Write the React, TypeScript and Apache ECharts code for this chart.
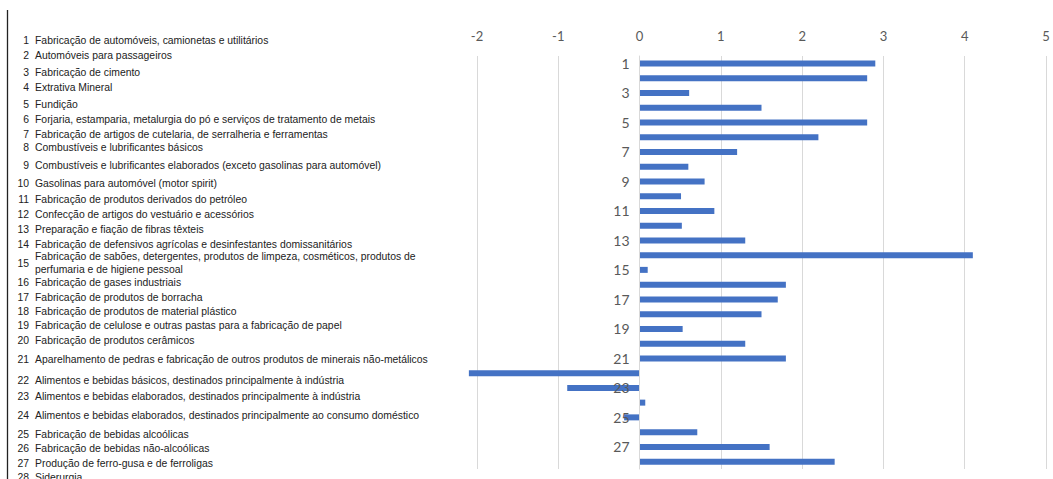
import React, { useEffect, useRef } from "react";
import * as echarts from "echarts";

const categories: string[] = [
  "1", "2", "3", "4", "5", "6", "7", "8", "9", "10", "11", "12", "13", "14",
  "15", "16", "17", "18", "19", "20", "21", "22", "23", "24", "25", "26", "27", "28",
];

const values: number[] = [
  2.9, 2.8, 0.61, 1.5, 2.8, 2.2, 1.2, 0.6, 0.8, 0.51, 0.92, 0.52, 1.3, 4.1,
  0.1, 1.8, 1.7, 1.5, 0.53, 1.3, 1.8, -2.1, -0.89, 0.07, -0.19, 0.71, 1.6, 2.4,
];

const descriptions: string[] = [
  "Fabricação de automóveis, camionetas e utilitários",
  "Automóveis para passageiros",
  "Fabricação de cimento",
  "Extrativa Mineral",
  "Fundição",
  "Forjaria, estamparia, metalurgia do pó e serviços de tratamento de metais",
  "Fabricação de artigos de cutelaria, de serralheria e ferramentas",
  "Combustíveis e lubrificantes básicos",
  "Combustíveis e lubrificantes elaborados (exceto gasolinas para automóvel)",
  "Gasolinas para automóvel (motor spirit)",
  "Fabricação de produtos derivados do petróleo",
  "Confecção de artigos do vestuário e acessórios",
  "Preparação e fiação de fibras têxteis",
  "Fabricação de defensivos agrícolas e desinfestantes domissanitários",
  "Fabricação de sabões, detergentes, produtos de limpeza, cosméticos, produtos de\nperfumaria e de higiene pessoal",
  "Fabricação de gases industriais",
  "Fabricação de produtos de borracha",
  "Fabricação de produtos de material plástico",
  "Fabricação de celulose e outras pastas para a fabricação de papel",
  "Fabricação de produtos cerâmicos",
  "Aparelhamento de pedras e fabricação de outros produtos de minerais não-metálicos",
  "Alimentos e bebidas básicos, destinados principalmente à indústria",
  "Alimentos e bebidas elaborados, destinados principalmente à indústria",
  "Alimentos e bebidas elaborados, destinados principalmente ao consumo doméstico",
  "Fabricação de bebidas alcoólicas",
  "Fabricação de bebidas não-alcoólicas",
  "Produção de ferro-gusa e de ferroligas",
  "Siderurgia",
];

// vertical position of each description row in the side list
const rowY: number[] = [
  40, 55, 72, 87, 104, 119, 134, 147, 165, 183, 199, 214, 229, 244,
  263, 282, 297, 311, 325, 340, 359, 380, 396, 415, 434, 448, 463, 477,
];

const X_MIN = -2;
const X_MAX = 5;
const GRID_LEFT = 477;
const GRID_RIGHT = 7;
const WIDTH = 1053;

export default function App() {
  const ref = useRef<HTMLDivElement>(null);

  useEffect(() => {
    if (!ref.current) return;
    const chart = echarts.init(ref.current, undefined, { renderer: "svg" });

    const plotW = WIDTH - GRID_LEFT - GRID_RIGHT;
    const zeroOffset = ((0 - X_MIN) / (X_MAX - X_MIN)) * plotW;

    const listFont = '10.4px "Liberation Sans", Arial, sans-serif';
    const graphic: any[] = [
      {
        type: "line",
        shape: { x1: 7.5, y1: 10, x2: 7.5, y2: 479 },
        style: { stroke: "#222", lineWidth: 1.3 },
        silent: true,
      },
    ];
    descriptions.forEach((d, i) => {
      graphic.push({
        type: "text",
        x: 29,
        y: rowY[i],
        style: {
          text: categories[i],
          font: listFont,
          fill: "#222",
          align: "right",
          verticalAlign: "middle",
        },
        silent: true,
      });
      graphic.push({
        type: "text",
        x: 35,
        y: rowY[i],
        style: {
          text: d,
          font: listFont,
          fill: "#222",
          align: "left",
          verticalAlign: "middle",
          lineHeight: 13,
        },
        silent: true,
      });
    });

    chart.setOption({
      animation: false,
      backgroundColor: "#ffffff",
      grid: { left: GRID_LEFT, right: GRID_RIGHT, top: 56, bottom: 10, containLabel: false },
      xAxis: {
        type: "value",
        position: "top",
        min: X_MIN,
        max: X_MAX,
        interval: 1,
        axisLine: { show: false },
        axisTick: { show: false },
        axisLabel: {
          color: "#595959",
          fontSize: 13,
          fontFamily: "Lato, 'Open Sans', sans-serif",
          margin: 14,
        },
        splitLine: { show: true, lineStyle: { color: "#d9d9d9", width: 1 } },
      },
      yAxis: {
        type: "category",
        data: categories,
        inverse: true,
        offset: -zeroOffset,
        z: 5,
        axisLine: { show: true, onZero: false, lineStyle: { color: "#d9d9d9" } },
        axisTick: { show: false },
        axisLabel: {
          interval: 1,
          color: "#595959",
          fontSize: 14,
          fontFamily: "Lato, 'Open Sans', sans-serif",
          margin: 10,
        },
        splitLine: { show: false },
      },
      series: [
        {
          type: "bar",
          data: values,
          barWidth: 6,
          clip: false,
          z: 2,
          itemStyle: { color: "#4472C4" },
        },
      ],
      graphic,
    });

    return () => chart.dispose();
  }, []);

  return (
    <div
      ref={ref}
      style={{ position: "fixed", left: 0, top: 0, width: WIDTH, height: 479 }}
    />
  );
}
